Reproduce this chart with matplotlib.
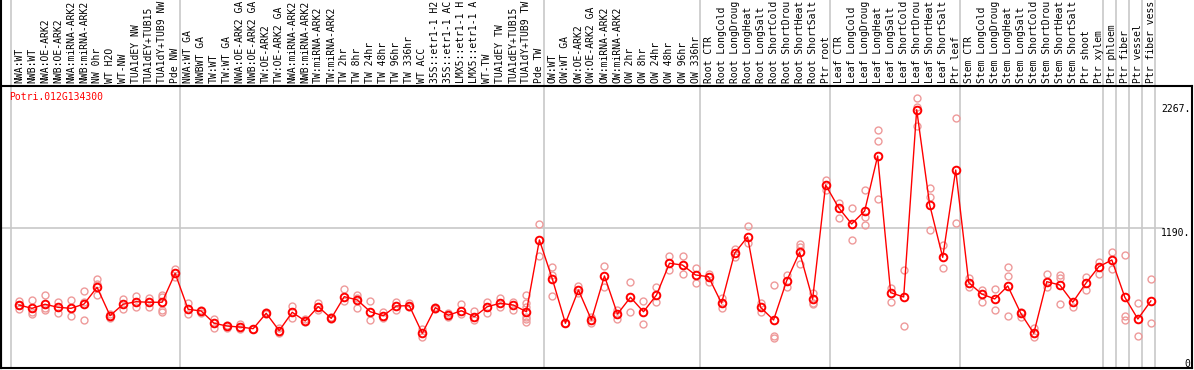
import matplotlib
matplotlib.use("Agg")
import matplotlib.pyplot as plt
import matplotlib.transforms as mtransforms

gene = "Potri.012G134300"

# sample names as far as they are readable in the label strip
labels = [
    "NWA:WT", "NWB:WT", "NWA:OE-ARK2", "NWB:OE-ARK2", "NWA:miRNA-ARK2", "NWB:miRNA-ARK2",
    "NW 0hr", "WT H2O", "WT-NW", "TUA1dEY NW", "TUA1dEY+TUB15", "TUA1dY+TUB9 NW", "Pde NW",
    "NWA:WT GA", "NWBWT GA", "TW:WT", "TW:WT GA", "NWA:OE-ARK2 GA", "NWB:OE-ARK2 GA",
    "TW:OE-ARK2", "TW:OE-ARK2 GA", "NWA:miRNA-ARK2", "NWB:miRNA-ARK2", "TW:miRNA-ARK2",
    "TW:miRNA-ARK2", "TW 2hr", "TW 8hr", "TW 24hr", "TW 48hr", "TW 96hr", "TW 336hr",
    "WT ACC", "35S::etr1-1 H2", "35S::etr1-1 AC", "LMX5::etr1-1 H", "LMX5::etr1-1 A",
    "WT-TW", "TUA1dEY TW", "TUA1dEY+TUB15", "TUA1dY+TUB9 TW", "Pde TW",
    "OW:WT", "OW:WT GA", "OW:OE-ARK2", "OW:OE-ARK2 GA", "OW:miRNA-ARK2", "OW:miRNA-ARK2",
    "OW 2hr", "OW 8hr", "OW 24hr", "OW 48hr", "OW 96hr", "OW 336hr",
    "Root CTR", "Root LongCold", "Root LongDroug", "Root LongHeat", "Root LongSalt",
    "Root ShortCold", "Root ShortDrou", "Root ShortHeat", "Root ShortSalt", "Ptr root",
    "Leaf CTR", "Leaf LongCold", "Leaf LongDroug", "Leaf LongHeat", "Leaf LongSalt",
    "Leaf ShortCold", "Leaf ShortDrou", "Leaf ShortHeat", "Leaf ShortSalt", "Ptr leaf",
    "Stem CTR", "Stem LongCold", "Stem LongDroug", "Stem LongHeat", "Stem LongSalt",
    "Stem ShortCold", "Stem ShortDrou", "Stem ShortHeat", "Stem ShortSalt", "Ptr shoot",
    "Ptr xylem", "Ptr phloem", "Ptr fiber", "Ptr vessel", "Ptr fiber vess",
]

group_sizes = [13, 28, 12, 10, 10, 11, 1, 1, 1, 1]

means = [
    493, 463, 500, 472, 463, 502, 654, 396, 500, 523, 518, 518, 781,
    454, 439, 327, 302, 293, 278, 418, 260, 427, 348, 478, 372, 569, 539, 432, 396, 484,
    487, 236, 469, 400, 441, 387, 478, 509, 493, 432, 1084,
    727, 327, 629, 357, 757, 411, 563, 432, 584, 872, 856, 766,
    750, 509, 963, 1111, 472, 357, 711, 972, 545, 1583,
    1377, 1229, 1347, 1846, 605, 566, 2267, 1402, 926, 1719,
    696, 593, 548, 666, 418, 236, 705, 675, 518, 690, 841,
    902, 563, 366, 530,
]

replicates = [
    [529, 454, 493], [538, 432, 411], [584, 463, 448], [523, 423], [538, 396],
    [620, 517, 357], [726, 684, 584], [411, 372], [544, 454], [575, 478],
    [553, 478], [584, 569, 448, 432], [820, 750],
    [508, 408], [448, 417], [369, 287], [311, 281], [317, 275], [278],
    [432, 411], [281, 242], [484, 372], [363, 341], [514, 448], [387, 363],
    [635, 532], [584, 553, 469], [529, 357], [432, 372], [517, 448], [514, 472],
    [272, 205], [478, 457], [417, 387], [499, 411], [441, 357], [523, 423],
    [553, 472], [523, 448], [584, 508, 478, 387, 363, 341], [1226, 938],
    [835, 765, 575], [326], [666, 599], [381, 326], [847, 660], [448, 363],
    [699, 426], [529, 317], [660, 523], [938, 811], [938, 772], [832, 696],
    [772, 705], [553, 463], [999, 932], [1211, 1053], [514, 432], [675, 211, 190],
    [765, 660], [1047, 1023, 865], [605, 514, 502], [1628, 1538],
    [1416, 1280], [1371, 1083], [1538, 1289, 1220], [2083, 1986, 1453], [644, 523],
    [811, 302], [2370, 2295, 2119], [1553, 1471, 1174], [1038, 826], [2189, 1235],
    [735, 660], [629, 523], [635, 448], [835, 759, 396], [432, 387], [281, 199],
    [772, 660], [765, 741, 499], [478], [744, 629], [887, 772],
    [971, 817], [947, 396, 357], [508, 214], [726, 326],
]

grid_value = 1190

W, H = 1194, 370
fig = plt.figure(figsize=(W / 100, H / 100), dpi=100)
ax_left, ax_right, ax_top, ax_bottom = 1, 1192, 86, 368
ax = fig.add_axes([ax_left / W, 1 - ax_bottom / H, (ax_right - ax_left) / W, (ax_bottom - ax_top) / H])

font = "DejaVu Sans Mono"
fs = 7.0

n = len(means)
xs = list(range(n))

# replicate points behind the mean line
for i, vals in enumerate(replicates):
    ax.plot([i] * len(vals), vals, linestyle="none", marker="o", markersize=5,
            markerfacecolor="none", markeredgecolor="#ee9a9a", markeredgewidth=1.0, zorder=2)

ax.plot(xs, means, color="red", linewidth=1.0, marker="o", markersize=5.5,
        markerfacecolor="none", markeredgecolor="red", markeredgewidth=1.4, zorder=3)

px_per_x = 13.01
ax.set_xlim((ax_left - 19) / px_per_x, (ax_right - 19) / px_per_x)
ax.set_ylim(-79, 2482)

ax.set_xticks([])
ax.set_yticks([])
for side in ["left", "right", "top", "bottom"]:
    ax.spines[side].set_color("black")
    ax.spines[side].set_linewidth(1.5)

# horizontal reference line
ax.plot([ax.get_xlim()[0], 87.9], [grid_value, grid_value], color="#c8c8c8", linewidth=1.2, zorder=1)

# group separators running up through the label strip
ext = 1 + ax_top / (ax_bottom - ax_top)
start = 0
bounds = [0]
for g in group_sizes:
    start += g
    bounds.append(start)
for b in bounds:
    ax.axvline(b - 0.65, 0, ext, color="#c8c8c8", linewidth=1.2, clip_on=False, zorder=1)
ax.axvline(ax.get_xlim()[0], 0, ext, color="black", linewidth=1.5, clip_on=False)

# sample labels
trans = mtransforms.blended_transform_factory(ax.transData, ax.transAxes)
for i, lab in enumerate(labels):
    ax.text(i, 1 + 3 / (ax_bottom - ax_top), lab, transform=trans, rotation=90,
            ha="center", va="bottom", fontsize=fs, family=font, color="black", clip_on=False)

# value labels on the right
ytrans = mtransforms.blended_transform_factory(ax.transAxes, ax.transData)
ax.annotate(f"{max(means)}.", xy=(0.9985, max(means)), xycoords=ytrans, xytext=(0, 4),
            textcoords="offset points", ha="right", va="top", fontsize=fs, family=font)
ax.text(0.9985, grid_value, f"{grid_value}.", transform=ytrans, ha="right", va="top",
        fontsize=fs, family=font)
ax.text(0.9985, 0, "0", transform=ytrans, ha="right", va="top", fontsize=fs, family=font)

fig.text(9 / W, 1 - 92 / H, gene, color="red", fontsize=fs, family=font, ha="left", va="top")

fig.savefig("out.png", dpi=100)
